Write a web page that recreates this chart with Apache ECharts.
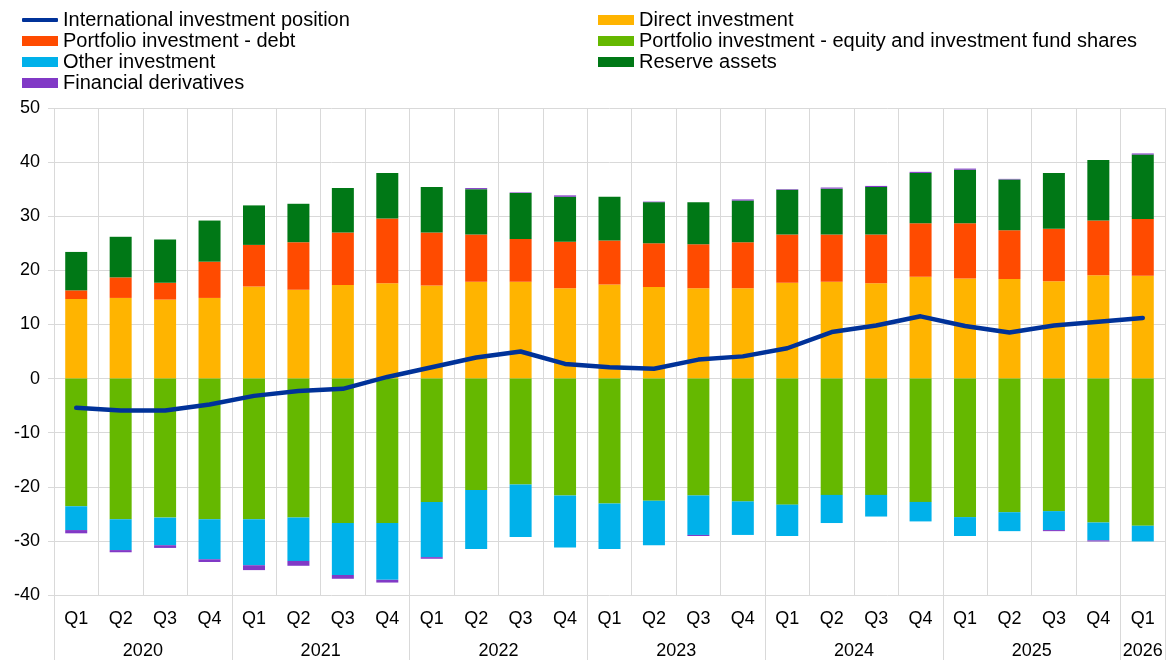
<!DOCTYPE html>
<html>
<head>
<meta charset="utf-8">
<script src="https://cdn.jsdelivr.net/npm/echarts@6/dist/echarts.min.js"></script>
<style>
html,body{margin:0;padding:0;background:#fff;}
#chart{width:1168px;height:660px;}
</style>
</head>
<body>
<div id="chart"></div>
<script>
const periods = [
  '2020 Q1','2020 Q2','2020 Q3','2020 Q4',
  '2021 Q1','2021 Q2','2021 Q3','2021 Q4',
  '2022 Q1','2022 Q2','2022 Q3','2022 Q4',
  '2023 Q1','2023 Q2','2023 Q3','2023 Q4',
  '2024 Q1','2024 Q2','2024 Q3','2024 Q4',
  '2025 Q1','2025 Q2','2025 Q3','2025 Q4',
  '2026 Q1'
];
const yTicks = { min: -40, max: 50, interval: 10 };

const iip = [-5.4,-5.9,-5.9,-4.8, -3.2,-2.3,-1.9,0.3, 2.1,3.9,5.0,2.7, 2.1,1.8,3.5,4.1, 5.6,8.6,9.8,11.5, 9.7,8.5,9.8,10.5, 11.2];
const directInv = [14.7,14.9,14.6,14.9, 17.0,16.4,17.3,17.6, 17.2,17.9,17.9,16.7, 17.4,16.9,16.7,16.7, 17.7,17.9,17.6,18.8, 18.5,18.4,18.0,19.1, 19.0];
const portDebt = [1.6,3.8,3.1,6.7, 7.7,8.8,9.7,12.0, 9.8,8.7,7.9,8.6, 8.1,8.1,8.1,8.5, 8.9,8.7,9.0,9.9, 10.2,9.0,9.7,10.1, 10.5];
const portEquity = [-23.6,-26.0,-25.7,-26.0, -26.0,-25.7,-26.7,-26.7, -22.8,-20.6,-19.6,-21.6, -23.1,-22.6,-21.6,-22.7, -23.3,-21.5,-21.5,-22.8, -25.6,-24.7,-24.5,-26.6, -27.2];
const otherInv = [-4.4,-5.7,-5.1,-7.4, -8.5,-8.0,-9.6,-10.5, -10.2,-10.9,-9.7,-9.6, -8.4,-8.2,-7.3,-6.2, -5.8,-5.2,-4.0,-3.6, -3.5,-3.5,-3.5,-3.3, -2.9];
const reserves = [7.1,7.5,8.0,7.6, 7.3,7.1,8.2,8.4, 8.4,8.4,8.5,8.3, 8.1,7.6,7.8,7.7, 8.3,8.5,8.8,9.3, 9.9,9.4,10.3,11.2, 11.9];
const finDeriv = [-0.6,-0.4,-0.5,-0.5, -0.9,-0.9,-0.7,-0.5, -0.3,0.2,0.1,0.25, 0,0.1,-0.2,0.2, 0.1,0.2,0.2,0.2, 0.2,0.1,-0.2,-0.2, 0.2];

const names = {
  iip: 'International investment position',
  di: 'Direct investment',
  pd: 'Portfolio investment - debt',
  pe: 'Portfolio investment - equity and investment fund shares',
  oi: 'Other investment',
  ra: 'Reserve assets',
  fd: 'Financial derivatives'
};
const colors = {
  iip: '#003299', di: '#FFB400', pd: '#FF4B00', pe: '#65B800',
  oi: '#00B1EA', ra: '#007816', fd: '#8139C6'
};

// derived axis labels
const quarterLabels = periods.map(p => p.split(' ')[1]);
const years = [];
const yearStart = [];
periods.forEach((p, i) => {
  const y = p.split(' ')[0];
  if (!years.length || years[years.length - 1] !== y) { years.push(y); yearStart.push(i); }
});
const yearBounds = yearStart.concat([periods.length]);
const yearCenters = years.map((y, k) => (yearBounds[k] + yearBounds[k + 1]) / 2);

const FONT = "'Liberation Sans', Arial, sans-serif";
const GRID = '#d9d9d9';
const legendText = { fontSize: 20, color: '#000', fontFamily: FONT, lineHeight: 20 };

const chart = echarts.init(document.getElementById('chart'), null, { renderer: 'canvas' });

function bar(key, data) {
  return {
    name: names[key], type: 'bar', stack: 'total', data: data,
    barWidth: 22, itemStyle: { color: colors[key] }, xAxisIndex: 0
  };
}

const option = {
  animation: false,
  textStyle: { fontFamily: FONT },
  legend: [
    {
      data: [{ name: names.iip, icon: 'roundRect' }],
      orient: 'vertical', left: 22, top: 10, padding: 0, itemGap: 1, itemWidth: 36, itemHeight: 4,
      textStyle: legendText
    },
    {
      data: [names.pd, names.oi, names.fd].map(n => ({ name: n, icon: 'rect' })),
      orient: 'vertical', left: 22, top: 31, padding: 0, itemGap: 1, itemWidth: 36, itemHeight: 10,
      textStyle: legendText
    },
    {
      data: [names.di, names.pe, names.ra].map(n => ({ name: n, icon: 'rect' })),
      orient: 'vertical', left: 598, top: 10, padding: 0, itemGap: 1, itemWidth: 36, itemHeight: 10,
      textStyle: legendText
    }
  ],
  grid: { left: 54, right: 3, top: 108, bottom: 63, containLabel: false },
  xAxis: [
    {
      type: 'category', data: periods, position: 'bottom',
      axisLine: { show: true, lineStyle: { color: GRID } },
      axisTick: { show: true, interval: 0, length: 44, lineStyle: { color: GRID } },
      axisLabel: { interval: 0, margin: 15, fontSize: 18, color: '#000', fontFamily: FONT,
        formatter: (v, i) => quarterLabels[i] },
      splitLine: { show: true, interval: 0, lineStyle: { color: GRID } }
    },
    {
      type: 'value', min: 0, max: periods.length, position: 'bottom',
      axisLine: { show: false },
      splitLine: { show: false },
      axisTick: { show: true, customValues: yearBounds, length: 70, lineStyle: { color: GRID } },
      axisLabel: { show: true, customValues: yearCenters, margin: 47, fontSize: 18, color: '#000', fontFamily: FONT,
        formatter: v => { const k = yearCenters.indexOf(v); return k >= 0 ? years[k] : ''; } }
    }
  ],
  yAxis: {
    type: 'value', min: yTicks.min, max: yTicks.max, interval: yTicks.interval,
    axisLine: { show: false },
    axisTick: { show: true, length: 6, lineStyle: { color: GRID } },
    axisLabel: { fontSize: 18, color: '#000', margin: 14, fontFamily: FONT },
    splitLine: { show: true, lineStyle: { color: GRID } }
  },
  series: [
    bar('di', directInv),
    bar('pd', portDebt),
    bar('pe', portEquity),
    bar('oi', otherInv),
    bar('ra', reserves),
    bar('fd', finDeriv),
    {
      name: names.iip, type: 'line', data: iip, xAxisIndex: 0, symbol: 'none', z: 10,
      lineStyle: { color: colors.iip, width: 4.5, cap: 'round', join: 'round' },
      itemStyle: { color: colors.iip }
    }
  ]
};
chart.setOption(option);
</script>
</body>
</html>
